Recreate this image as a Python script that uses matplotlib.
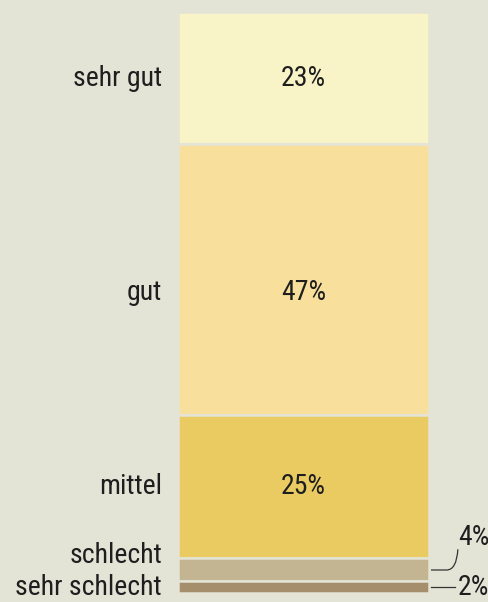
import matplotlib
matplotlib.use("Agg")
import matplotlib.pyplot as plt
from matplotlib.transforms import blended_transform_factory
from matplotlib.path import Path
from matplotlib.patches import PathPatch
import numpy as np

categories = ["sehr gut", "gut", "mittel", "schlecht", "sehr schlecht"]
values = [23, 47, 25, 4, 2]
colors = ["#f8f4c8", "#f8df9c", "#e9cb62", "#c4b592", "#a58e6c"]
bg = "#e3e3d6"

plt.rcParams['font.family'] = ['Roboto Condensed', 'Liberation Sans Narrow', 'Roboto', 'DejaVu Sans']

fig = plt.figure(figsize=(4.88, 6.02), dpi=100, facecolor=bg)
ax = fig.add_axes([178 / 488, 9 / 602, 251 / 488, 581 / 602])
ax.set_facecolor(bg)

total = sum(values)
starts = np.cumsum([0] + values[:-1])
ax.bar(0, values, bottom=starts, width=1, color=colors, edgecolor=bg, linewidth=1.8)
ax.set_xlim(-0.5, 0.5)
ax.set_ylim(total, 0)
ax.axis("off")

fs = 20
tc = "#1e1e1e"
trans = blended_transform_factory(ax.transAxes, ax.transData)
centers = starts + np.array(values) / 2
# text y positions (a bit off-centre in the original for the big segment)
label_y = [centers[0], centers[1] + 2.2, centers[2], 94.4, 100.1]
for i in range(3):
    ax.text(0, label_y[i], f"{values[i]}%", ha="center", va="center", fontsize=fs, color=tc)
for i in range(5):
    ax.text(-0.064, label_y[i], categories[i], transform=trans, ha="right", va="center",
            fontsize=fs, color=tc)

# leader lines for the two thin segments
p = Path([(1.008, centers[3]), (1.07, centers[3]), (1.11, centers[3]), (1.115, 93.4)],
         [Path.MOVETO, Path.LINETO, Path.CURVE3, Path.CURVE3])
ax.add_patch(PathPatch(p, transform=trans, fill=False, edgecolor="#333333", lw=0.9, clip_on=False))
ax.plot([1.008, 1.105], [centers[4], centers[4]], transform=trans, color="#333333", lw=0.9, clip_on=False)
ax.text(1.115, 91.4, f"{values[3]}%", transform=trans, ha="left", va="center", fontsize=fs, color=tc)
ax.text(1.115, 100.1, f"{values[4]}%", transform=trans, ha="left", va="center", fontsize=fs, color=tc)

fig.savefig("out.png", dpi=100, facecolor=bg)
